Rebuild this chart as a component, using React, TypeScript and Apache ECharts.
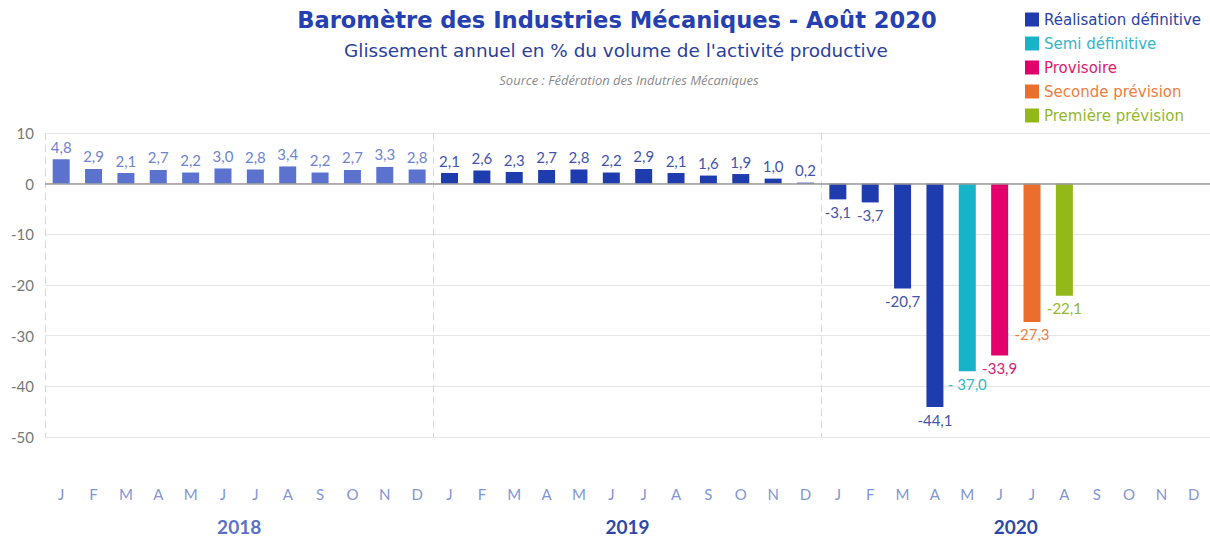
import React, { useEffect, useRef } from "react";
import * as echarts from "echarts";

const months = [
  "J", "F", "M", "A", "M", "J", "J", "A", "S", "O", "N", "D",
  "J", "F", "M", "A", "M", "J", "J", "A", "S", "O", "N", "D",
  "J", "F", "M", "A", "M", "J", "J", "A", "S", "O", "N", "D",
];
const years = ["2018", "2019", "2020"];
const yTicks = { min: -50, max: 10, interval: 10 };

// Réalisation définitive (2018, 2019, Jan-Apr 2020)
const realisation2018 = [4.8, 2.9, 2.1, 2.7, 2.2, 3.0, 2.8, 3.4, 2.2, 2.7, 3.3, 2.8];
const realisation2019 = [2.1, 2.6, 2.3, 2.7, 2.8, 2.2, 2.9, 2.1, 1.6, 1.9, 1.0, 0.2];
const realisation2020 = [-3.1, -3.7, -20.7, -44.1];
const semiDefinitive = [-37.0]; // May 2020
const provisoire = [-33.9]; // June 2020
const secondePrevision = [-27.3]; // July 2020
const premierePrevision = [-22.1]; // August 2020

const FONT = "Lato";
const WIDE = "DejaVu Sans";
const C_2018_BAR = "#5b72cf";
const C_2018_LBL = "#6f84cf";
const C_REAL = "#1f3caf";
const C_REAL_LBL = "#3f55ac";
const C_SEMI = "#17b3c9";
const C_PROV = "#e4006b";
const C_SEC = "#ec6e2c";
const C_PREM = "#93b81a";

const fmt = (v: number) => v.toFixed(1).replace(".", ",");

function placeAt(index: number, values: number[]) {
  const arr: (number | null)[] = months.map(() => null);
  values.forEach((v, i) => (arr[index + i] = v));
  return arr;
}

export default function App() {
  const ref = useRef<HTMLDivElement>(null);
  useEffect(() => {
    if (!ref.current) return;
    const chart = echarts.init(ref.current, null, { renderer: "svg" });

    const realData: any[] = months.map(() => null);
    realisation2018.forEach((v, i) => {
      realData[i] = {
        value: v,
        itemStyle: { color: C_2018_BAR },
        label: { color: C_2018_LBL },
      };
    });
    realisation2019.forEach((v, i) => (realData[12 + i] = v));
    realisation2020.forEach((v, i) => (realData[24 + i] = v));

    const baseLabel = (color: string, formatter?: any) => ({
      show: true,
      color,
      fontFamily: FONT,
      fontSize: 15,
      distance: 5,
      formatter: formatter || ((p: any) => fmt(p.value)),
      position: "top",
    });

    const mkSeries = (name: string, data: any[], color: string, lblColor: string, formatter?: any) => ({
      name,
      type: "bar",
      stack: "all",
      barWidth: 17,
      data: data.map((d) =>
        d == null
          ? null
          : typeof d === "object"
          ? d
          : {
              value: d,
              label: { position: d < 0 ? "bottom" : "top" },
            }
      ),
      itemStyle: { color },
      label: baseLabel(lblColor, formatter),
    });

    const series: any[] = [
      {
        ...mkSeries("Réalisation définitive", realData, C_REAL, C_REAL_LBL),
        markLine: {
          silent: true,
          symbol: ["none", "none"],
          label: { show: false },
          lineStyle: { color: "#9a9a9a", type: "solid", width: 1.5 },
          data: [{ yAxis: 0 }],
        },
      },
      mkSeries("Semi définitive", placeAt(28, semiDefinitive), C_SEMI, "#35b6c6", (p: any) =>
        "- " + fmt(Math.abs(p.value))
      ),
      mkSeries("Provisoire", placeAt(29, provisoire), C_PROV, "#dd1a6e"),
      mkSeries("Seconde prévision", placeAt(30, secondePrevision), C_SEC, "#ee7d3e"),
      mkSeries("Première prévision", placeAt(31, premierePrevision), C_PREM, "#93b82a"),
    ];

    const legendItems = [
      ["Réalisation définitive", "#2a43a8"],
      ["Semi définitive", "#35b6c6"],
      ["Provisoire", "#dd1a6e"],
      ["Seconde prévision", "#ee7d3e"],
      ["Première prévision", "#93b82a"],
    ];

    chart.setOption({
      animation: false,
      backgroundColor: "#ffffff",
      textStyle: { fontFamily: FONT },
      legend: {
        orient: "vertical",
        left: 1020,
        top: 7,
        icon: "rect",
        itemWidth: 14,
        itemHeight: 14,
        itemGap: 9,
        selectedMode: false,
        textStyle: { fontSize: 15, fontFamily: WIDE },
        data: legendItems.map(([name, color]) => ({ name, textStyle: { color } })),
      },
      graphic: [
        {
          type: "text",
          x: 617,
          y: 20,
          style: {
            text: "Baromètre des Industries Mécaniques - Août 2020",
            fill: "#2540b0",
            font: `bold 22.6px "${WIDE}"`,
            textAlign: "center",
            textVerticalAlign: "middle",
          },
        },
        {
          type: "text",
          x: 616,
          y: 50,
          style: {
            text: "Glissement annuel en % du volume de l'activité productive",
            fill: "#2b3f9c",
            font: `18.4px "${WIDE}"`,
            textAlign: "center",
            textVerticalAlign: "middle",
          },
        },
        {
          type: "text",
          x: 629,
          y: 80,
          style: {
            text: "Source : Fédération des Indutries Mécaniques",
            fill: "#8a8a8a",
            font: `italic 13px "Open Sans"`,
            textAlign: "center",
            textVerticalAlign: "middle",
          },
        },
      ],
      grid: { left: 45, top: 133, width: 1166, height: 304 },
      xAxis: [
        {
          type: "category",
          data: months,
          axisLine: { show: false },
          axisTick: { show: false },
          splitLine: { show: false },
          axisLabel: {
            interval: 0,
            color: "#8196d6",
            fontSize: 15,
            fontFamily: FONT,
            margin: 49,
          },
        },
        {
          type: "category",
          data: years,
          position: "bottom",
          axisLine: { show: false },
          axisTick: { show: false },
          splitLine: {
            show: true,
            lineStyle: { color: "#d6d6d6", type: [7, 5], width: 1 },
          },
          axisLabel: {
            interval: 0,
            fontSize: 19,
            fontWeight: "bold",
            fontFamily: FONT,
            margin: 80,
            color: (v: string) => (v === "2018" ? "#5a72c6" : "#2d47a9"),
          },
        },
      ],
      yAxis: {
        type: "value",
        min: yTicks.min,
        max: yTicks.max,
        interval: yTicks.interval,
        axisLine: { show: false },
        axisTick: { show: false },
        splitLine: { lineStyle: { color: "#e6e6e6", width: 1 } },
        axisLabel: { color: "#777777", fontSize: 15, fontFamily: FONT, margin: 11 },
      },
      series,
    });
    return () => chart.dispose();
  }, []);
  return (
    <div
      ref={ref}
      style={{ position: "fixed", left: 0, top: 0, width: 1210, height: 540 }}
    />
  );
}
